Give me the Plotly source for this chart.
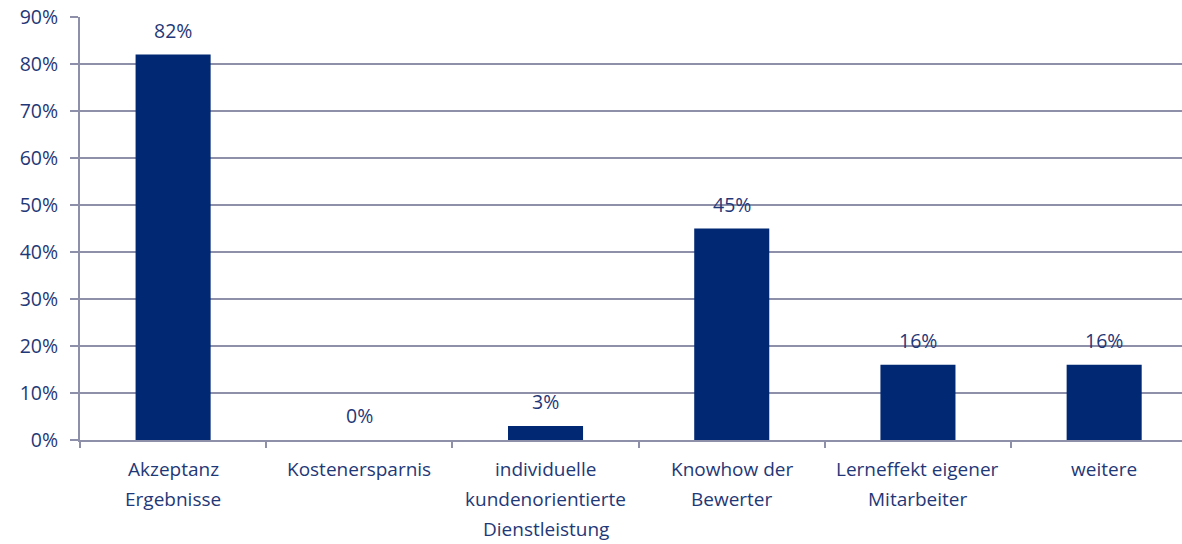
import plotly.graph_objects as go

categories = ["Akzeptanz<br>Ergebnisse", "Kostenersparnis",
              "individuelle<br>kundenorientierte<br>Dienstleistung",
              "Knowhow der<br>Bewerter", "Lerneffekt eigener<br>Mitarbeiter", "weitere"]
values = [82, 0, 3, 45, 16, 16]
labels = ["82%", "0%", "3%", "45%", "16%", "16%"]
tick_vals = [0, 10, 20, 30, 40, 50, 60, 70, 80, 90]
tick_text = ["0%", "10%", "20%", "30%", "40%", "50%", "60%", "70%", "80%", "90%"]

TXT = "#1f3877"
GRID = "#8e90aa"
FONT = "Open Sans"
FS = 19.5

fig = go.Figure()
fig.add_trace(go.Bar(x=categories, y=values, marker=dict(color="#002873", line=dict(width=0)),
                     width=0.403, hoverinfo="skip"))

for c, v, t in zip(categories, values, labels):
    fig.add_annotation(x=c, y=v, text=t, showarrow=False, yanchor="bottom", yshift=9,
                       font=dict(family=FONT, size=FS, color=TXT))

# category labels, one annotation per line for wider line spacing
for c in categories:
    for i, line in enumerate(c.split("<br>")):
        fig.add_annotation(x=c, y=0, text=line, showarrow=False, yanchor="top",
                           yshift=-14 - 30 * i,
                           font=dict(family=FONT, size=19, color=TXT))

fig.update_layout(
    width=1182, height=544,
    margin=dict(l=80, r=0, t=17, b=104),
    paper_bgcolor="white", plot_bgcolor="white",
    showlegend=False,
    font=dict(family=FONT, size=FS, color=TXT),
)
fig.update_xaxes(
    range=[-0.5, 5.418],
    showline=True, linecolor=GRID, linewidth=2,
    ticks="outside", ticklen=6, tickcolor=GRID, tickwidth=1.5,
    tickson="boundaries", showgrid=False,
    showticklabels=False,
)
fig.update_yaxes(
    range=[0, 90], tickvals=tick_vals, ticktext=tick_text,
    showline=True, linecolor=GRID, linewidth=2,
    ticks="outside", ticklen=8, tickcolor=GRID, tickwidth=1.5,
    showgrid=True, gridcolor=GRID, gridwidth=1.5,
    zeroline=False, ticklabelstandoff=8,
    tickfont=dict(family=FONT, size=FS, color=TXT),
)

fig.write_html("out.html")
